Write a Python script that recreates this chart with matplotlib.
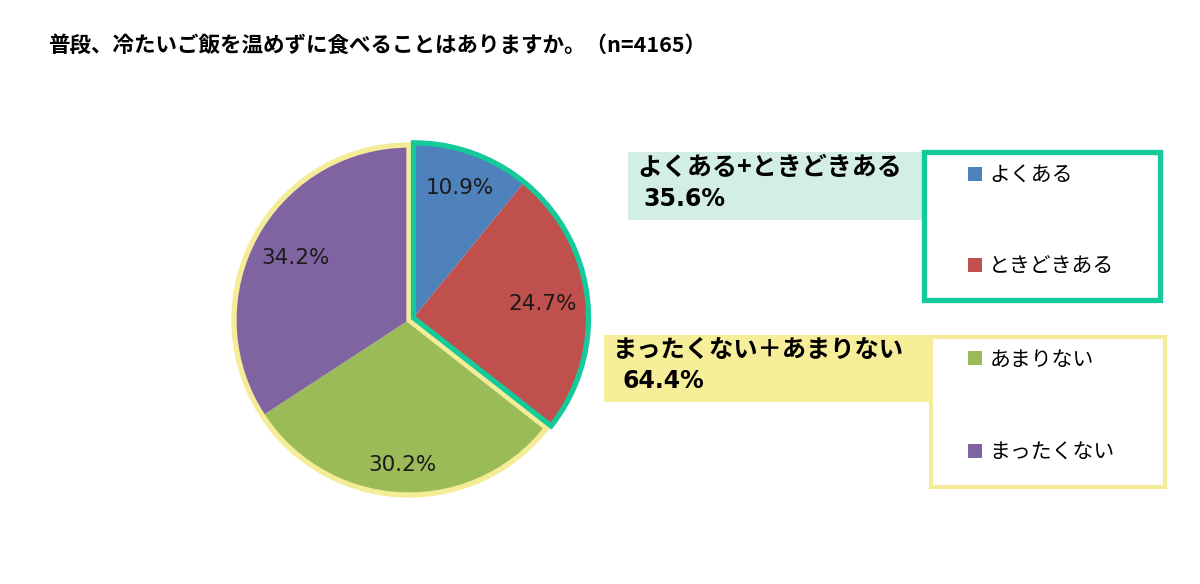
import matplotlib.pyplot as plt
from matplotlib.patches import Rectangle, Wedge
import numpy as np

plt.rcParams['font.family'] = ['Noto Sans CJK JP', 'DejaVu Sans']

# データ
categories = ['よくある', 'ときどきある', 'あまりない', 'まったくない']
values = [10.9, 24.7, 30.2, 34.2]
colors = ['#4F81BD', '#C0504D', '#9BBB59', '#8064A2']
group_labels = ['よくある+ときどきある', 'まったくない＋あまりない']
group_values = ['35.6%', '64.4%']
title = '普段、冷たいご飯を温めずに食べることはありますか。（n=4165）'

W, H = 1200, 584
fig = plt.figure(figsize=(12, 5.84), dpi=100)
ax = fig.add_axes([0, 0, 1, 1])
ax.set_xlim(0, W)
ax.set_ylim(0, H)
ax.set_aspect('equal')
ax.axis('off')

def Y(y):
    return H - y

cx, cy, r = 409, Y(320), 175

wedges, texts, autotexts = ax.pie(values, colors=colors, startangle=90, counterclock=False,
                                  center=(cx, cy), radius=r, autopct='%1.1f%%', pctdistance=0.78,
                                  textprops={'fontsize': 15.5, 'color': '#1a1a1a', 'family': ['DejaVu Sans']},
                                  wedgeprops={'linewidth': 0})
ax.set_xlim(0, W)
ax.set_ylim(0, H)

# ラベル位置の微調整（中心からの距離）
label_dist = [0.79, 0.74, 0.83, 0.74]
start = 90
for v, t, d in zip(values, autotexts, label_dist):
    a = np.deg2rad(start - v * 3.6 / 2)
    t.set_position((cx + d * r * np.cos(a), cy + d * r * np.sin(a)))
    start -= v * 3.6

# 35.6% のグループを少しずらす
grp1 = values[0] + values[1]
mid = np.deg2rad(90 - grp1 * 3.6 / 2)
dx, dy = 5 * np.cos(mid), 5 * np.sin(mid)
for w, t in zip(wedges[:2], autotexts[:2]):
    w.set_center((cx + dx, cy + dy))
    x, y = t.get_position()
    t.set_position((x + dx, y + dy))

teal = '#14C99A'
yellow = '#F5EC98'
a_end = 90 - grp1 * 3.6
ax.add_patch(Wedge((cx + dx, cy + dy), r, a_end, 90, fill=False, edgecolor=teal, linewidth=3.8, zorder=5))
ax.add_patch(Wedge((cx, cy), r, 90, a_end + 360, fill=False, edgecolor=yellow, linewidth=3.8, zorder=4))

# タイトル
ax.text(48, Y(45), title, fontsize=15.5, fontweight='bold', va='center', ha='left')

# グループラベル
ax.add_patch(Rectangle((628, Y(220)), 924 - 628, 68, facecolor='#D3EEE6', edgecolor='none'))
ax.text(637, Y(168), group_labels[0], fontsize=18, fontweight='bold', va='center', ha='left')
ax.text(643, Y(199), group_values[0], fontsize=17, fontweight='bold', va='center', ha='left',
        family=['DejaVu Sans'])
ax.add_patch(Rectangle((604, Y(402)), 930 - 604, 67, facecolor='#F7EE9A', edgecolor='none'))
ax.text(612, Y(350), group_labels[1], fontsize=17.5, fontweight='bold', va='center', ha='left')
ax.text(622, Y(381), group_values[1], fontsize=17, fontweight='bold', va='center', ha='left',
        family=['DejaVu Sans'])

# 凡例の枠
ax.add_patch(Rectangle((924, Y(300)), 1160 - 924, 148, facecolor='white', edgecolor=teal, linewidth=3.8))
ax.add_patch(Rectangle((931, Y(487)), 1165 - 931, 150, facecolor='white', edgecolor=yellow, linewidth=3))

leg1 = ax.legend(wedges[:2], categories[:2], loc='upper left', bbox_to_anchor=(958 / W, 1 - 154 / H),
                 bbox_transform=fig.transFigure, frameon=False, borderpad=0, fontsize=15,
                 handlelength=0.65, handleheight=0.65, handletextpad=0.35, labelspacing=3.3)
ax.add_artist(leg1)
ax.legend([wedges[2], wedges[3]], [categories[2], categories[3]], loc='upper left',
          bbox_to_anchor=(958 / W, 1 - 338 / H), bbox_transform=fig.transFigure, frameon=False,
          borderpad=0, fontsize=15, handlelength=0.65, handleheight=0.65, handletextpad=0.35,
          labelspacing=3.4)

plt.savefig('out.png', dpi=100)
